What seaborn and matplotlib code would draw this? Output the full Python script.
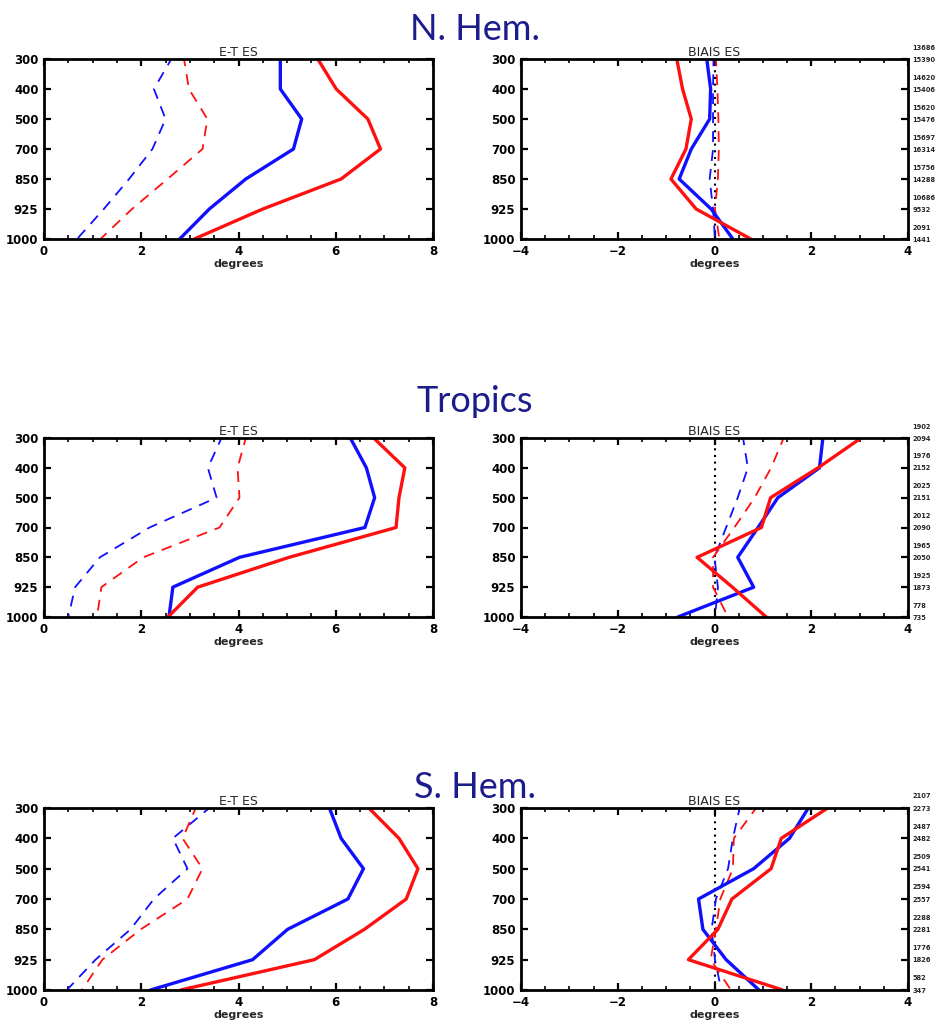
import numpy as np
import pandas as pd
import matplotlib
matplotlib.use("Agg")
import matplotlib.pyplot as plt
import matplotlib.transforms as mtransforms
from matplotlib.ticker import MultipleLocator, FixedLocator
import seaborn as sns

# ---------------- data ----------------
levels = ["300", "400", "500", "700", "850", "925", "1000"]
regions = ["N. Hem.", "Tropics", "S. Hem."]

# E-T ES (left panels): solid / dashed, blue / red
nh_et_blue_solid = [4.86, 4.86, 5.30, 5.13, 4.15, 3.40, 2.79]
nh_et_red_solid = [5.63, 6.01, 6.66, 6.92, 6.11, 4.50, 3.09]
nh_et_blue_dash = [2.62, 2.26, 2.50, 2.23, 1.75, 1.23, 0.68]
nh_et_red_dash = [2.88, 2.98, 3.36, 3.26, 2.54, 1.81, 1.16]

tr_et_blue_solid = [6.30, 6.63, 6.80, 6.60, 4.02, 2.65, 2.57]
tr_et_red_solid = [6.78, 7.42, 7.30, 7.24, 5.04, 3.16, 2.55]
tr_et_blue_dash = [3.65, 3.37, 3.55, 2.17, 1.15, 0.64, 0.50]
tr_et_red_dash = [4.15, 3.98, 4.02, 3.61, 2.04, 1.18, 1.09]

sh_et_blue_solid = [5.87, 6.11, 6.57, 6.25, 5.01, 4.29, 2.19]
sh_et_red_solid = [6.68, 7.30, 7.69, 7.45, 6.59, 5.56, 2.81]
sh_et_blue_dash = [3.40, 2.65, 2.95, 2.26, 1.78, 1.06, 0.47]
sh_et_red_dash = [3.12, 2.85, 3.26, 2.95, 1.99, 1.20, 0.78]

# BIAIS ES (right panels)
nh_b_blue_solid = [-0.16, -0.08, -0.10, -0.48, -0.73, -0.07, 0.38]
nh_b_red_solid = [-0.78, -0.66, -0.48, -0.59, -0.90, -0.38, 0.75]
nh_b_blue_dash = [-0.02, -0.03, -0.03, -0.03, -0.10, -0.03, 0.01]
nh_b_red_dash = [0.03, 0.06, 0.08, 0.09, 0.07, 0.01, 0.10]

tr_b_blue_solid = [2.24, 2.17, 1.31, 0.90, 0.48, 0.81, -0.76]
tr_b_red_solid = [3.03, 2.14, 1.16, 0.97, -0.36, 0.37, 1.07]
tr_b_blue_dash = [0.59, 0.69, 0.48, 0.24, 0.00, 0.07, 0.01]
tr_b_red_dash = [1.43, 1.17, 0.83, 0.41, -0.03, -0.03, 0.28]

sh_b_blue_solid = [1.94, 1.55, 0.81, -0.33, -0.24, 0.24, 0.92]
sh_b_red_solid = [2.34, 1.38, 1.17, 0.36, 0.07, -0.54, 1.41]
sh_b_blue_dash = [0.52, 0.38, 0.28, 0.03, -0.06, 0.01, 0.14]
sh_b_red_dash = [0.86, 0.40, 0.38, 0.12, 0.03, -0.08, 0.34]

# sample counts printed at right (two per level)
nh_counts_a = ["13686", "14620", "15620", "15697", "15756", "10686", "2091"]
nh_counts_b = ["15390", "15406", "15476", "16314", "14288", "9532", "1441"]
tr_counts_a = ["1902", "1976", "2025", "2012", "1965", "1925", "778"]
tr_counts_b = ["2094", "2152", "2151", "2090", "2050", "1873", "735"]
sh_counts_a = ["2107", "2487", "2509", "2594", "2288", "1776", "582"]
sh_counts_b = ["2273", "2482", "2541", "2557", "2281", "1826", "347"]

et_data = [
    (nh_et_blue_solid, nh_et_red_solid, nh_et_blue_dash, nh_et_red_dash),
    (tr_et_blue_solid, tr_et_red_solid, tr_et_blue_dash, tr_et_red_dash),
    (sh_et_blue_solid, sh_et_red_solid, sh_et_blue_dash, sh_et_red_dash),
]
bias_data = [
    (nh_b_blue_solid, nh_b_red_solid, nh_b_blue_dash, nh_b_red_dash),
    (tr_b_blue_solid, tr_b_red_solid, tr_b_blue_dash, tr_b_red_dash),
    (sh_b_blue_solid, sh_b_red_solid, sh_b_blue_dash, sh_b_red_dash),
]
counts = [
    (nh_counts_a, nh_counts_b),
    (tr_counts_a, tr_counts_b),
    (sh_counts_a, sh_counts_b),
]

# ---------------- style ----------------
sns.set_theme(style="white")
plt.rcParams["font.family"] = ["DejaVu Sans"]
plt.rcParams["xtick.minor.visible"] = True

W, H = 938, 1028
fig = plt.figure(figsize=(W / 100, H / 100), dpi=100)

BLUE = "#1010ff"
RED = "#ff1010"
TITLE_C = "#1c1c8c"

# axes pixel boxes: (top, bottom)
rows_px = [(59, 239), (438, 617), (808, 990)]
left_px = (44, 433)
right_px = (521, 908)
title_y_px = [30, 402, 788]


def px_axes(x0, x1, y0, y1):
    return fig.add_axes([x0 / W, 1 - y1 / H, (x1 - x0) / W, (y1 - y0) / H])


idx = np.arange(len(levels))


def draw_series(ax, vals, color, solid):
    df = pd.DataFrame({"val": vals, "lev": idx})
    if solid:
        sns.lineplot(data=df, x="val", y="lev", orient="y", estimator=None,
                     color=color, lw=2.4, ax=ax)
    else:
        sns.lineplot(data=df, x="val", y="lev", orient="y", estimator=None,
                     color=color, lw=1.3, linestyle=(2, (6, 4.5)), ax=ax)


def style_axes(ax, xlim, ticks, title):
    ax.set_xlim(*xlim)
    ax.set_ylim(len(levels) - 1, 0)
    ax.set_yticks(idx)
    ax.set_yticklabels(levels)
    ax.set_xticks(ticks)
    minors = [v for v in np.arange(xlim[0], xlim[1] + 0.01, 0.5)
              if not np.any(np.isclose(v, ticks))]
    ax.xaxis.set_minor_locator(FixedLocator(minors))
    ax.yaxis.set_minor_locator(FixedLocator([]))
    ax.tick_params(axis="both", which="major", direction="in", length=5,
                   width=1.6, top=True, right=True, bottom=True, left=True,
                   labelsize=8.5, pad=4, colors="black")
    ax.tick_params(axis="x", which="minor", direction="in", length=3,
                   width=1.2, top=True, bottom=True, color="black")
    for lab in ax.get_xticklabels() + ax.get_yticklabels():
        lab.set_fontweight("bold")
    for s in ax.spines.values():
        s.set_linewidth(2.0)
        s.set_color("black")
    ax.set_xlabel("degrees", fontsize=8, fontweight="bold", labelpad=1)
    ax.set_ylabel("")
    ax.set_title(title, fontsize=9, pad=2)
    ax.grid(False)


for r in range(3):
    top, bot = rows_px[r]
    # left panel
    axl = px_axes(left_px[0], left_px[1], top, bot)
    bs, rs, bd, rd = et_data[r]
    draw_series(axl, bd, BLUE, False)
    draw_series(axl, rd, RED, False)
    draw_series(axl, bs, BLUE, True)
    draw_series(axl, rs, RED, True)
    style_axes(axl, (0, 8), [0, 2, 4, 6, 8], "E-T ES")

    # right panel
    axr = px_axes(right_px[0], right_px[1], top, bot)
    axr.axvline(0, color="black", lw=1.5, linestyle=(0, (1, 2.2)))
    bs, rs, bd, rd = bias_data[r]
    draw_series(axr, bd, BLUE, False)
    draw_series(axr, rd, RED, False)
    draw_series(axr, bs, BLUE, True)
    draw_series(axr, rs, RED, True)
    style_axes(axr, (-4, 4), [-4, -2, 0, 2, 4], "BIAIS ES")

    # sample counts
    trans = mtransforms.blended_transform_factory(axr.transAxes, axr.transData)
    ca, cb = counts[r]
    for i in range(len(levels)):
        axr.text(1.012, i - 0.38, ca[i], transform=trans, fontsize=4.8,
                 fontweight="bold", va="center", ha="left", clip_on=False)
        axr.text(1.012, i + 0.02, cb[i], transform=trans, fontsize=4.8,
                 fontweight="bold", va="center", ha="left", clip_on=False)

    # region title
    fig.text(475 / W, 1 - title_y_px[r] / H, regions[r], fontsize=26,
             color=TITLE_C, ha="center", va="center", family=["Lato", "DejaVu Sans"])

fig.savefig("out.png", dpi=100, facecolor="white")
